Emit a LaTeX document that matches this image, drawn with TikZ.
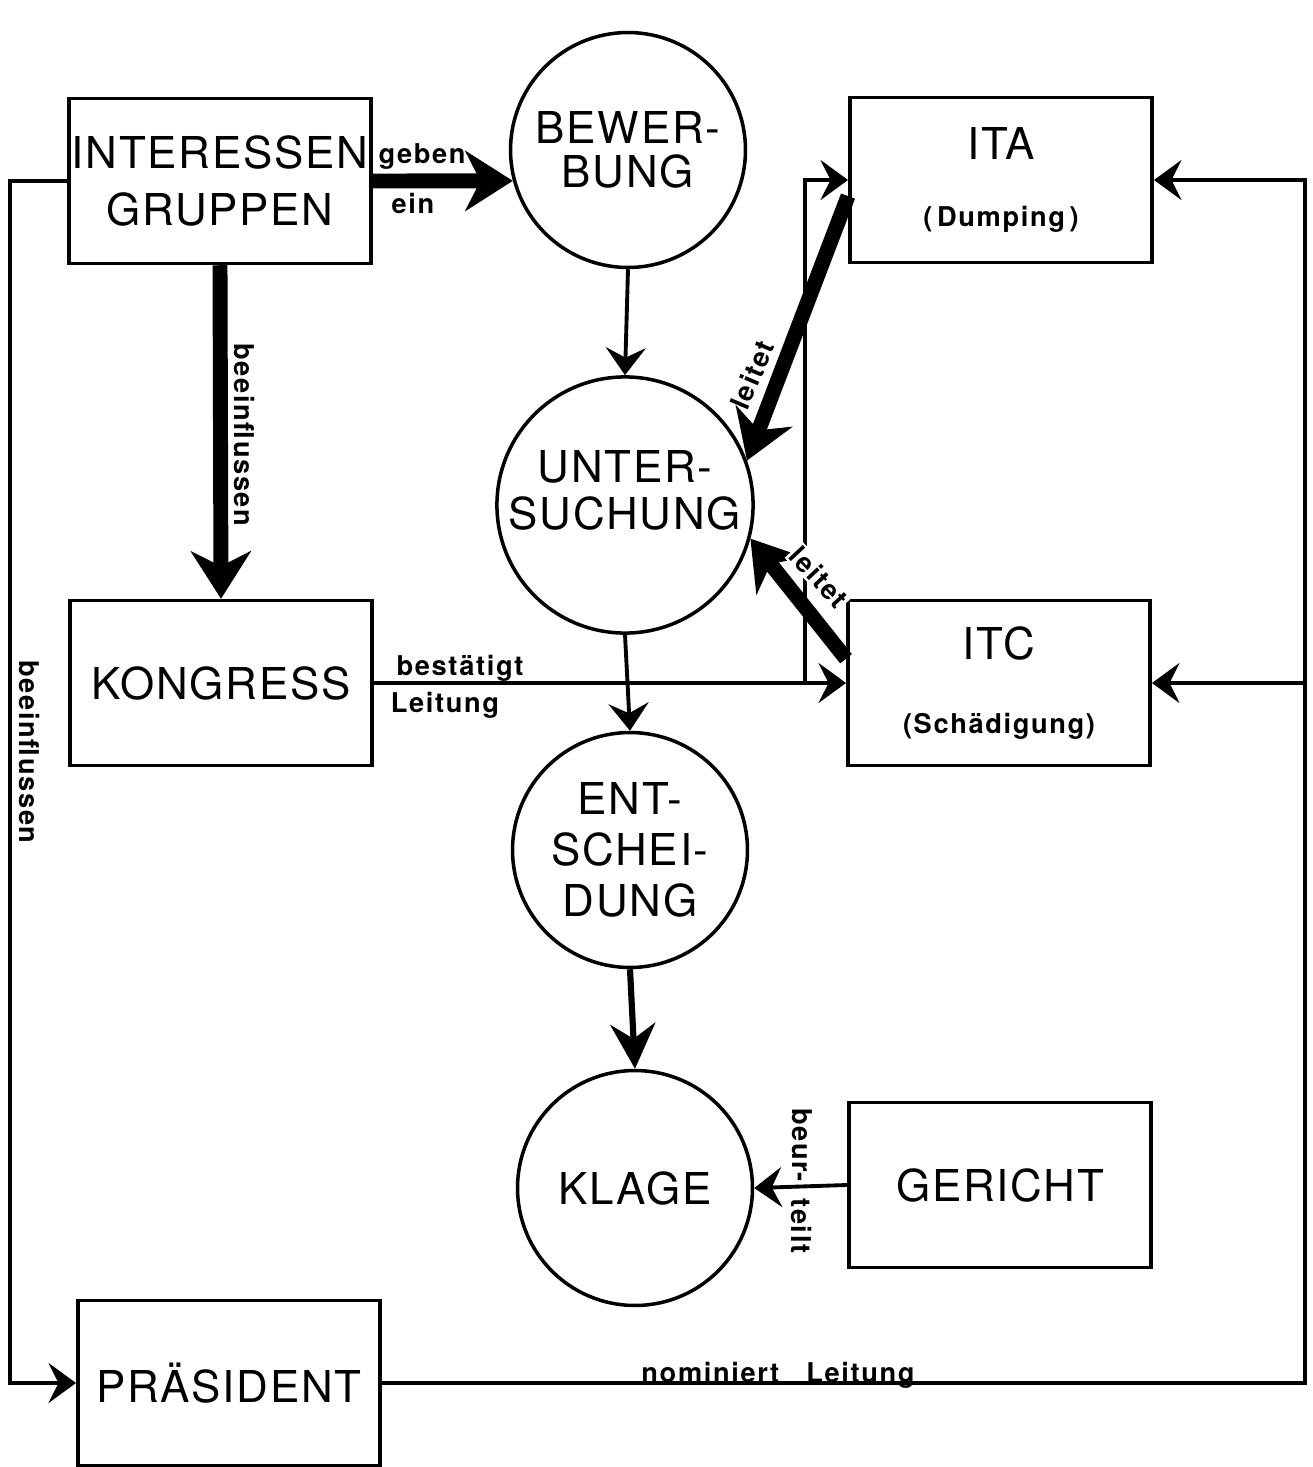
\documentclass[tikz,border=0pt]{standalone}
\usepackage{fontspec}
\setmainfont[LetterSpace=4]{TeX Gyre Heros}
\newfontfamily\labfont[LetterSpace=6]{TeX Gyre Heros}
\usetikzlibrary{arrows.meta}

\tikzset{
  box/.style={draw, line width=2pt, minimum width=6.05cm, minimum height=3.3cm, inner sep=0pt, align=center, font=\fontsize{25}{32}\selectfont},
  circ/.style={draw, circle, line width=2pt, minimum size=4.7cm, inner sep=0pt, align=center, font=\fontsize{25}{32}\selectfont},
  lab/.style={font=\labfont\bfseries\fontsize{15.5}{18}\selectfont, inner sep=1pt},
  wire/.style={line width=2pt},
  flow/.style={line width=2.2pt, -{Stealth[length=0.55cm, width=0.8cm, inset=0.2cm]}},
  bigflow/.style={line width=3.5pt, -{Stealth[length=0.9cm, width=0.9cm, inset=0.3cm]}},
  heavy/.style={line width=8.5pt, -{Stealth[length=0.95cm, width=1.2cm, inset=0.3cm]}}
}

\begin{document}
\begin{tikzpicture}[x=0.02cm, y=-0.02cm]
    \useasboundingbox (0,0) rectangle (1312,1467);

    % Draw boxes
    \node[box] (ig) at (220,181) {INTERESSEN\\GRUPPEN};
    \node[box] (ko) at (221,683) {KONGRESS};
    \node[box] (pr) at (229,1383) {PRÄSIDENT};
    \node[box] (ita) at (1001,180) {ITA\\[0.22cm]{\labfont\bfseries\fontsize{15.5}{18}\selectfont (\,Dumping\,)}};
    \node[box] (itc) at (999,683) {ITC\\[0.34cm]{\labfont\bfseries\fontsize{15.5}{18}\selectfont (Schädigung)}};
    \node[box] (ge) at (1000,1185) {GERICHT};

    % Draw circles
    \node[circ, font=\fontsize{25}{25}\selectfont] (bw) at (628,150) {BEWER-\\BUNG};
    \node[circ, font=\fontsize{25}{27}\selectfont] (us) at (625,505) {UNTER-\\SUCHUNG\\[-0.35cm]\mbox{}};
    \node[circ, font=\fontsize{25}{29}\selectfont] (en) at (630,850) {ENT-\\SCHEI-\\DUNG};
    \node[circ] (kl) at (635,1188) {KLAGE};

    % Corner points of the long lines
    \coordinate (lx) at (10,800);
    \coordinate (rx) at (1305,800);
    \coordinate (rb) at (1305,683);
    \coordinate (kb) at (805,683);

    % Draw connectors
    \draw[heavy] (ig.east) -- (bw.195);
    \draw[heavy] (ig.south) -- (ko.north);
    \draw[flow] (kb) |- (ita.west);
    \draw[heavy] (ita.186) -- (us.20);
    \draw[heavy] (itc.171) -- (us.345);
    \draw[flow] (bw.south) -- (us.north);
    \draw[flow] (us.south) -- (en.north);
    \draw[bigflow] (en.south) -- (kl.north);
    \draw[flow] (ge.west) -- (kl.east);
    \draw[flow] (ko.east) -- (itc.west);
    \draw[flow] (ig.west) -| (lx) |- (pr.west);
    \draw[flow] (pr.east) -| (rx) |- (ita.east);
    \draw[flow] (rb) -- (itc.east);

    % Labels on the connectors
    \node[lab] (geben) at (422,157) {geben};
    \node[lab] (ein) at (413,203) {ein};
    \node[lab, rotate=-90] (bee1) at (245,435) {beeinflussen};
    \node[lab, rotate=-90] (bee2) at (30,752) {beeinflussen};
    \node[lab] (best) at (460,668) {bestätigt};
    \node[lab] (leit) at (445,705) {Leitung};
    \node[lab, rotate=67] (lt1) at (752,375) {leitet};
    \node[lab, rotate=-47, fill=white] (lt2) at (819,577) {leitet};
    \node[lab, rotate=-90] (beur) at (802,1145) {beur-};
    \node[lab, rotate=-90] (teilt) at (802,1226) {teilt};
    \node[lab] (nom) at (778,1375) {nominiert\quad Leitung};
\end{tikzpicture}
\end{document}
